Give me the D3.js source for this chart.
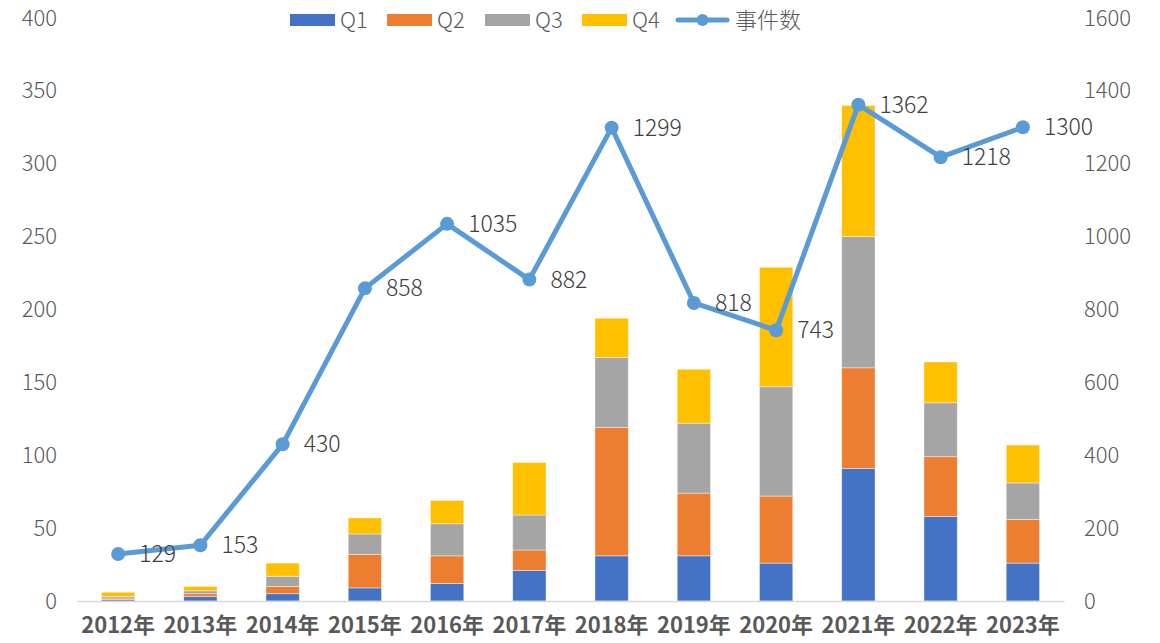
<!DOCTYPE html>
<html>
<head>
<meta charset="utf-8">
<script src="https://cdn.jsdelivr.net/npm/d3@7"></script>
<style>
  body { margin: 0; background: #fff; }
  svg text { font-family: "Noto Sans CJK SC", "Noto Sans", sans-serif; font-weight: 300; }
</style>
</head>
<body>
<div id="chart"></div>
<script>
var years = ["2012年","2013年","2014年","2015年","2016年","2017年","2018年","2019年","2020年","2021年","2022年","2023年"];
var q1 = [1, 3, 5, 9, 12, 21, 31, 31, 26, 91, 58, 26];
var q2 = [1, 2, 5, 23, 19, 14, 88, 43, 46, 69, 41, 30];
var q3 = [1, 2, 7, 14, 22, 24, 48, 48, 75, 90, 37, 25];
var q4 = [3, 3, 9, 11, 16, 36, 27, 37, 82, 90, 28, 26];
var events = [129, 153, 430, 858, 1035, 882, 1299, 818, 743, 1362, 1218, 1300];
var leftTicks = [0, 50, 100, 150, 200, 250, 300, 350, 400];
var rightTicks = [0, 200, 400, 600, 800, 1000, 1200, 1400, 1600];
var seriesNames = ["Q1", "Q2", "Q3", "Q4"];
var seriesColors = ["#4472c4", "#ed7d31", "#a5a5a5", "#ffc000"];
var lineName = "事件数";
var lineColor = "#5b9bd5";

var W = 1160, H = 643;
var margin = {top: 18, right: 96, bottom: 42, left: 77};
var width = W - margin.left - margin.right,
    height = H - margin.top - margin.bottom;

var svg = d3.select("#chart").append("svg")
    .attr("width", W).attr("height", H);
var g = svg.append("g")
    .attr("transform", "translate(" + margin.left + "," + margin.top + ")");

var x = d3.scaleBand().domain(years).range([0, width]).paddingInner(0.595).paddingOuter(0.2975);
var y = d3.scaleLinear().domain([0, 400]).range([height, 0]);
var y2 = d3.scaleLinear().domain([0, 1600]).range([height, 0]);

// stacked bars
var table = years.map(function(yr, i) {
    return {year: yr, Q1: q1[i], Q2: q2[i], Q3: q3[i], Q4: q4[i]};
});
var stack = d3.stack().keys(seriesNames)(table);

g.selectAll("g.layer")
    .data(stack)
    .enter().append("g")
    .attr("class", "layer")
    .attr("fill", function(d, i) { return seriesColors[i]; })
    .selectAll("rect")
    .data(function(d) { return d; })
    .enter().append("rect")
    .attr("x", function(d) { return x(d.data.year); })
    .attr("y", function(d) { return y(d[1]); })
    .attr("width", x.bandwidth())
    .attr("height", function(d) { return y(d[0]) - y(d[1]); })
    .attr("stroke", "#fff")
    .attr("stroke-opacity", 0.5)
    .attr("stroke-width", 0.8);

// axes
var leftAxis = g.append("g")
    .call(d3.axisLeft(y).tickValues(leftTicks).tickSize(0).tickPadding(20));
leftAxis.select(".domain").remove();
leftAxis.selectAll("text").attr("fill", "#595959").style("font-size", "22px");

var rightAxis = g.append("g")
    .attr("transform", "translate(" + width + ",0)")
    .call(d3.axisRight(y2).tickValues(rightTicks).tickFormat(d3.format("d")).tickSize(0).tickPadding(20));
rightAxis.select(".domain").remove();
rightAxis.selectAll("text").attr("fill", "#595959").style("font-size", "22px");

var bottomAxis = g.append("g")
    .attr("transform", "translate(0," + height + ")")
    .call(d3.axisBottom(x).tickSize(0).tickPadding(16));
bottomAxis.select(".domain").attr("stroke", "#d9d9d9").attr("stroke-width", 1.5);
bottomAxis.selectAll("text")
    .attr("fill", "#595959")
    .style("font-size", "22px")
    .style("font-weight", "bold");

// line
var line = d3.line()
    .x(function(d, i) { return x(years[i]) + x.bandwidth() / 2; })
    .y(function(d) { return y2(d); });

g.append("path")
    .datum(events)
    .attr("fill", "none")
    .attr("stroke", lineColor)
    .attr("stroke-width", 5)
    .attr("stroke-linejoin", "round")
    .attr("d", line);

g.selectAll("circle.pt")
    .data(events)
    .enter().append("circle")
    .attr("class", "pt")
    .attr("cx", function(d, i) { return x(years[i]) + x.bandwidth() / 2; })
    .attr("cy", function(d) { return y2(d); })
    .attr("r", 7)
    .attr("fill", lineColor);

g.selectAll("text.lbl")
    .data(events)
    .enter().append("text")
    .attr("class", "lbl")
    .attr("x", function(d, i) { return x(years[i]) + x.bandwidth() / 2 + 21; })
    .attr("y", function(d) { return y2(d); })
    .attr("dy", "0.35em")
    .attr("fill", "#404040")
    .style("font-size", "23px")
    .text(function(d) { return d; });

// legend
var legend = svg.append("g").attr("transform", "translate(290,20)");
var legX = [0, 97, 195, 292];
seriesNames.forEach(function(name, i) {
    var lg = legend.append("g").attr("transform", "translate(" + legX[i] + ",0)");
    lg.append("rect").attr("x", 0).attr("y", -6).attr("width", 45).attr("height", 12)
        .attr("fill", seriesColors[i]);
    lg.append("text").attr("x", 50).attr("y", 0).attr("dy", "0.35em")
        .attr("fill", "#595959").style("font-size", "22px").text(name);
});
var ll = legend.append("g").attr("transform", "translate(388,0)");
ll.append("line").attr("x1", 0).attr("x2", 49).attr("y1", 0).attr("y2", 0)
    .attr("stroke", lineColor).attr("stroke-width", 5).attr("stroke-linecap", "round");
ll.append("circle").attr("cx", 24.5).attr("cy", 0).attr("r", 6).attr("fill", lineColor);
ll.append("text").attr("x", 57).attr("y", 0).attr("dy", "0.35em")
    .attr("fill", "#595959").style("font-size", "22px").text(lineName);
</script>
</body>
</html>
